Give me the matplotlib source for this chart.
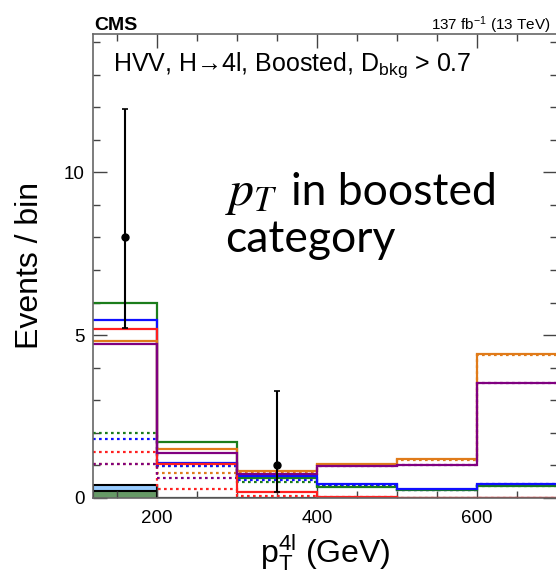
import matplotlib
matplotlib.use("Agg")
import matplotlib.pyplot as plt
from matplotlib.ticker import MultipleLocator

plt.rcParams['font.family'] = ['Liberation Sans', 'DejaVu Sans']
plt.rcParams['mathtext.fontset'] = 'custom'
plt.rcParams['mathtext.rm'] = 'Liberation Sans'
plt.rcParams['mathtext.it'] = 'Liberation Sans:italic'

# bin edges in GeV
edges = [120, 200, 300, 400, 500, 600, 700]

# signal hypotheses, solid
green_solid = [6.00, 1.72, 0.62, 0.35, 0.25, 0.37]
blue_solid = [5.45, 1.06, 0.69, 0.43, 0.27, 0.44]
red_solid = [5.20, 1.04, 0.18, 0.04, 0.00, 0.00]
orange_solid = [4.83, 1.51, 0.84, 1.03, 1.19, 4.42]
purple_solid = [4.72, 1.37, 0.75, 0.98, 1.00, 3.54]

# dotted ones
green_dot = [1.99, 0.98, 0.48, 0.37, 0.25, 0.37]
blue_dot = [1.80, 0.97, 0.55, 0.41, 0.26, 0.43]
red_dot = [1.40, 0.28, 0.06, 0.02, 0.00, 0.00]
orange_dot = [1.04, 0.77, 0.79, 1.02, 1.17, 4.40]
purple_dot = [1.03, 0.62, 0.74, 0.99, 1.00, 3.52]

# stacked backgrounds
bkg_zx = [0.20, 0.0, 0.0, 0.0, 0.0, 0.0]
bkg_zz = [0.20, 0.0, 0.0, 0.0, 0.0, 0.0]

# observed
data_x = [160, 350]
data_y = [8, 1]
data_lo = [2.77, 0.83]
data_hi = [3.94, 2.30]

fig = plt.figure(figsize=(5.56, 5.73), dpi=100)
ax = fig.add_axes([0.1673, 0.1309, 0.8345, 0.8106])

stack_top = [a + b for a, b in zip(bkg_zx, bkg_zz)]
ax.stairs(stack_top, edges, fill=True, facecolor='#99ccff', edgecolor='black', lw=1.5, zorder=1)
ax.stairs(bkg_zx, edges, fill=True, facecolor='#669966', edgecolor='black', lw=1.5, zorder=1.1)

cols = {'green': '#1b7d1b', 'blue': '#1010ff', 'red': '#ff2020', 'orange': '#e07b1a', 'purple': '#800080'}
dotted = [(green_dot, 'green'), (blue_dot, 'blue'), (red_dot, 'red'), (orange_dot, 'orange'), (purple_dot, 'purple')]
solid = [(green_solid, 'green'), (blue_solid, 'blue'), (red_solid, 'red'), (orange_solid, 'orange'), (purple_solid, 'purple')]
for vals, c in dotted:
    ax.stairs(vals, edges, baseline=None, color=cols[c], lw=1.6, ls=(0, (1.2, 1.5)), zorder=2)
for vals, c in solid:
    ax.stairs(vals, edges, baseline=None, color=cols[c], lw=1.6, zorder=2.2)

ax.errorbar(data_x, data_y, yerr=[data_lo, data_hi], fmt='o', color='black', ms=5,
            elinewidth=1.5, capsize=2.5, capthick=1.2, zorder=3)

ax.set_xlim(120, 700)
ax.set_ylim(0, 14.26)
ax.xaxis.set_major_locator(MultipleLocator(200))
ax.xaxis.set_minor_locator(MultipleLocator(50))
ax.yaxis.set_major_locator(MultipleLocator(5))
ax.yaxis.set_minor_locator(MultipleLocator(1))
ax.tick_params(which='both', direction='in', top=True, right=True, labelsize=13.5, color='#444444')
ax.tick_params(which='major', length=10, width=1)
ax.tick_params(which='minor', length=5, width=1)
ax.tick_params(axis='x', pad=9)
ax.tick_params(axis='y', pad=6)
for s in ax.spines.values():
    s.set_color('#666666')
    s.set_linewidth(1.2)

ax.set_xlabel(r'p$_{\mathregular{T}}^{\mathregular{4l}}$ (GeV)', fontsize=23)
ax.xaxis.set_label_coords(0.5, -0.074)
ax.xaxis.label.set_va('top')
ax.set_ylabel('Events / bin', fontsize=23)
ax.yaxis.set_label_coords(-0.136, 0.5)
ax.yaxis.label.set_va('center')

fig.text(94 / 556, 1 - 30 / 573, 'CMS', fontsize=14, fontweight='bold', va='baseline')
fig.text(551 / 556, 1 - 30 / 573, r'137 fb$^{\mathregular{-1}}$ (13 TeV)', fontsize=11,
         ha='right', va='baseline')
fig.text(113 / 556, 1 - 71 / 573, 'HVV, H\u21924l, Boosted, D$_{\\mathregular{bkg}}$ > 0.7', fontsize=18,
         va='baseline')

fig.text(225 / 556, 1 - 205 / 573, r'$p_T$', fontsize=36, math_fontfamily='stix', va='baseline')
fig.text(291 / 556, 1 - 205 / 573, 'in boosted', fontsize=32,
         family=['Lato', 'DejaVu Sans'], va='baseline')
fig.text(225 / 556, 1 - 252 / 573, 'category', fontsize=32,
         family=['Lato', 'DejaVu Sans'], va='baseline')

fig.savefig('out.png', dpi=100)
